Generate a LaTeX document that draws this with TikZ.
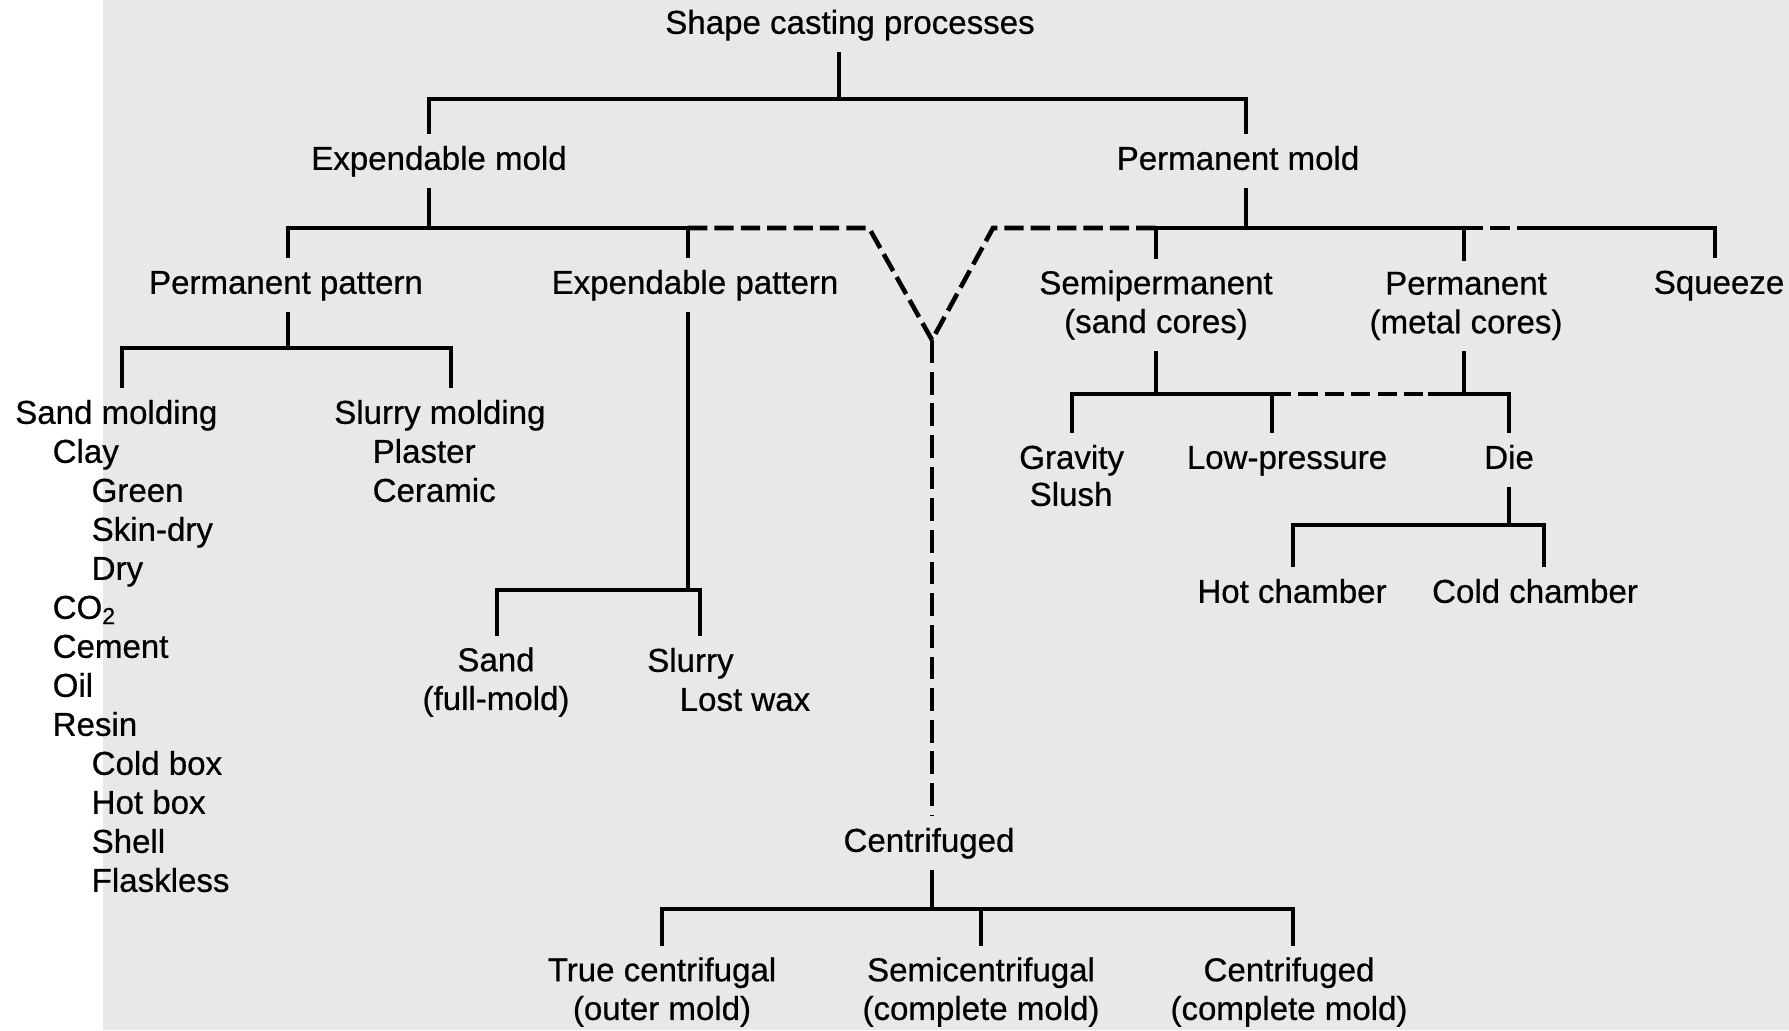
\documentclass[tikz,border=0pt]{standalone}
\usepackage{fontspec}
\setmainfont{Liberation Sans}[BoldFont=Liberation Sans, BoldFeatures={FakeBold=0.6}]
\usepackage{xcolor}
\usepackage{tikz}

\definecolor{paper}{RGB}{232,232,230}
\tikzset{
  txt/.style={inner sep=3pt, font=\fontsize{9.4}{11}\selectfont\bfseries, align=center},
  lbl/.style={txt, text height=7pt, text depth=2pt},
  lbltwo/.style={txt},
  item/.style={lbl, anchor=west, inner sep=0pt},
  link/.style={line width=1.3pt},
  dlink/.style={link, dash pattern=on 5.5pt off 2pt},
  vlink/.style={link, dash pattern=on 6.5pt off 2.5pt}
}

\begin{document}
\begin{tikzpicture}[x=0.01cm, y=-0.01cm]
    % Page
    \useasboundingbox (0,0) rectangle (1789,1030);
    \fill[white] (0,0) rectangle (1789,1030);
    \fill[paper] (103,0) rectangle (1789,1030);

    % Labels
    \node[lbl] (root) at (850,25) {Shape casting processes};
    \node[lbl] (expm) at (439,161) {Expendable mold};
    \node[lbl] (permm) at (1238,161) {Permanent mold};
    \node[lbl] (permp) at (286,285) {Permanent pattern};
    \node[lbl] (expp) at (695,285) {Expendable pattern};
    \node[lbltwo] (semi) at (1156,305) {Semipermanent\\(sand cores)};
    \node[lbltwo] (permc) at (1466,306) {Permanent\\(metal cores)};
    \node[lbl] (squeeze) at (1719,285) {Squeeze};

    \node[lbl, anchor=west] (sandm) at (4,415) {Sand molding};
    \foreach \txt/\lvl [count=\i] in {Clay/1, Green/2, Skin-dry/2, Dry/2,
        CO\textsubscript{2}/1, Cement/1, Oil/1, Resin/1, Cold box/2, Hot box/2, Shell/2, Flaskless/2}
        \node[item] (sm\i) at ({13+39*\lvl},{415+39*\i}) {\txt};
    \node[lbl, anchor=west] (slurm) at (323,415) {Slurry molding};
    \node[item] (plaster) at (372,454) {Plaster};
    \node[item] (ceramic) at (372,493) {Ceramic};

    \node[lbltwo] (sand) at (496,682) {Sand\\(full-mold)};
    \node[lbl, anchor=west] (slurry) at (636,663) {Slurry};
    \node[item] (lostwax) at (679,702) {Lost wax};

    \node[lbl, anchor=west] (gravity) at (1008,460) {Gravity};
    \node[item] (slush) at (1029,497) {Slush};
    \node[lbl] (lowp) at (1287,460) {Low-pressure};
    \node[lbl] (die) at (1509,460) {Die};
    \node[lbl] (hot) at (1292,594) {Hot chamber};
    \node[lbl] (cold) at (1535,594) {Cold chamber};

    \node[lbl] (centr) at (929,843) {Centrifuged};
    \node[lbltwo] (truec) at (662,992) {True centrifugal\\(outer mold)};
    \node[lbltwo] (semic) at (981,992) {Semicentrifugal\\(complete mold)};
    \node[lbltwo] (centc) at (1289,992) {Centrifuged\\(complete mold)};

    % Junctions on the bars
    \coordinate (r0) at (839,99);
    \coordinate (r1) at (429,99);
    \coordinate (r2) at (1246,99);
    \coordinate (e0) at (429,228);
    \coordinate (e1) at (288,228);
    \coordinate (e2) at (688,228);
    \coordinate (yl) at (869,228);
    \coordinate (apex) at (932,340);
    \coordinate (yr) at (993,228);
    \coordinate (p0) at (1246,228);
    \coordinate (p1) at (1156,228);
    \coordinate (p2) at (1464,228);
    \coordinate (p3) at (1535,228);
    \coordinate (p4) at (1715,228);
    \coordinate (a0) at (288,348);
    \coordinate (a1) at (122,348);
    \coordinate (a2) at (451,348);
    \coordinate (b0) at (688,590);
    \coordinate (b1) at (497,590);
    \coordinate (b2) at (700,590);
    \coordinate (c0) at (1156,394);
    \coordinate (c1) at (1464,394);
    \coordinate (c2) at (1072,394);
    \coordinate (c3) at (1272,394);
    \coordinate (c4) at (1428,394);
    \coordinate (c5) at (1509,394);
    \coordinate (d0) at (1509,525);
    \coordinate (d1) at (1293,525);
    \coordinate (d2) at (1544,525);
    \coordinate (f0) at (932,909);
    \coordinate (f1) at (662,909);
    \coordinate (f2) at (981,909);
    \coordinate (f3) at (1293,909);

    % Shape casting processes
    \draw[link] (r0 |- root.south) -- (r0);
    \draw[link] (r1 |- expm.north) -- (r1) -- (r2) -- (r2 |- permm.north);

    % Expendable mold
    \draw[link] (e0 |- expm.south) -- (e0);
    \draw[link] (e1 |- permp.north) -- (e1) -- (e2) -- (e2 |- expp.north);
    \draw[dlink] (e2) -- (yl) -- (apex) -- (yr) -- (p1);
    \draw[vlink] (apex) -- (apex |- centr.north);

    % Permanent mold
    \draw[link] (p0 |- permm.south) -- (p0);
    \draw[link] (p1 |- semi.north) -- (p1) -- (p2) -- (p2 |- permc.north);
    \draw[dlink] (p2) -- (p3);
    \draw[link] (p3) -- (p4) -- (p4 |- squeeze.north);

    % Permanent pattern
    \draw[link] (a0 |- permp.south) -- (a0);
    \draw[link] (a1 |- sandm.north) -- (a1) -- (a2) -- (a2 |- slurm.north);

    % Expendable pattern
    \draw[link] (b0 |- expp.south) -- (b0);
    \draw[link] (b1 |- sand.north) -- (b1) -- (b2) -- (b2 |- slurry.north);

    % Cores
    \draw[link] (c0 |- semi.south) -- (c0);
    \draw[link] (c1 |- permc.south) -- (c1);
    \draw[link] (c2 |- gravity.north) -- (c2) -- (c3) -- (c3 |- lowp.north);
    \draw[dlink] (c3) -- (c4);
    \draw[link] (c4) -- (c5) -- (c5 |- die.north);

    % Die
    \draw[link] (d0 |- die.south) -- (d0);
    \draw[link] (d1 |- hot.north) -- (d1) -- (d2) -- (d2 |- cold.north);

    % Centrifuged
    \draw[link] (f0 |- centr.south) -- (f0);
    \draw[link] (f1 |- truec.north) -- (f1) -- (f3) -- (f3 |- centc.north);
    \draw[link] (f2) -- (f2 |- semic.north);
\end{tikzpicture}
\end{document}
